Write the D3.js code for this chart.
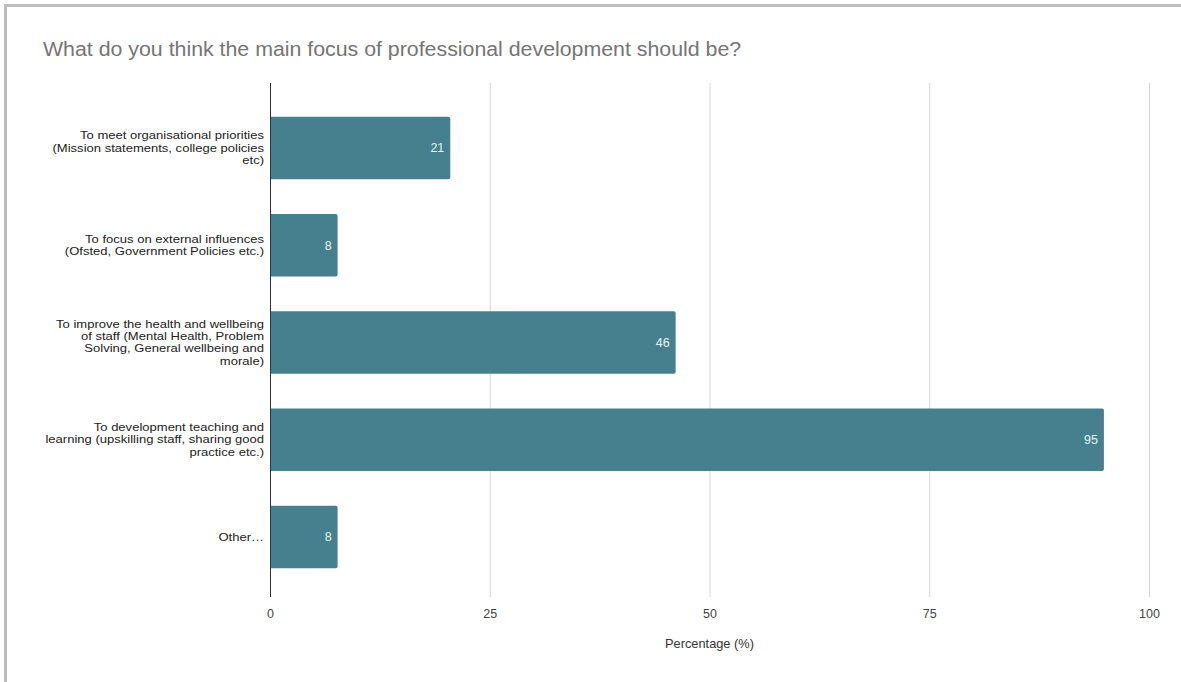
<!DOCTYPE html>
<html>
<head>
<meta charset="utf-8">
<script src="https://cdn.jsdelivr.net/npm/d3@7"></script>
<style>
  html, body { margin: 0; padding: 0; background: #fff; }
  svg { display: block; font-family: "Liberation Sans", Arial, sans-serif; }
</style>
</head>
<body>
<svg id="chart" width="1181" height="682"></svg>
<script>
// Survey answers (share of respondents, %)
const categories = [
  "To meet organisational priorities\n(Mission statements, college policies\netc)",
  "To focus on external influences\n(Ofsted, Government Policies etc.)",
  "To improve the health and wellbeing\nof staff (Mental Health, Problem\nSolving, General wellbeing and\nmorale)",
  "To development teaching and\nlearning (upskilling staff, sharing good\npractice etc.)",
  "Other\u2026"
];
const percentages = [20.51, 7.69, 46.15, 94.87, 7.69];
const xTicks = [0, 25, 50, 75, 100];

const title = "What do you think the main focus of professional development should be?";
const xTitle = "Percentage (%)";

const svg = d3.select("#chart");
const W = 1181, H = 682;

// page frame
svg.append("rect").attr("x", 0).attr("y", 0).attr("width", W).attr("height", H).attr("fill", "#fff");
svg.append("line").attr("x1", 4).attr("x2", W).attr("y1", 5.5).attr("y2", 5.5)
  .attr("stroke", "#bdbdbd").attr("stroke-width", 3);
svg.append("line").attr("x1", 5.5).attr("x2", 5.5).attr("y1", 4).attr("y2", H)
  .attr("stroke", "#bdbdbd").attr("stroke-width", 3);

svg.append("text").attr("transform", "translate(43,56) scale(1.1,1)")
  .attr("font-size", 19.4).attr("fill", "#757575").text(title);

const plot = { left: 270, right: 1149, top: 83, bottom: 597 };

const x = d3.scaleLinear().domain([0, 100]).range([plot.left, plot.right]);
const y = d3.scaleBand().domain(categories).range([99.4, 585.6])
  .paddingInner(0.357).paddingOuter(0.1785);

// vertical gridlines
svg.append("g").selectAll("line").data(xTicks.filter(d => d > 0)).join("line")
  .attr("x1", d => x(d) + 0.5).attr("x2", d => x(d) + 0.5)
  .attr("y1", plot.top).attr("y2", plot.bottom)
  .attr("stroke", "#d6d6d6").attr("stroke-width", 1);

// x tick labels
const xAxis = svg.append("g").attr("transform", `translate(0,${plot.bottom})`)
  .call(d3.axisBottom(x).tickValues(xTicks).tickSize(0).tickPadding(12));
xAxis.select(".domain").remove();
xAxis.selectAll("text").attr("font-size", 12.5).attr("fill", "#444")
  .attr("font-family", "'Liberation Sans', Arial, sans-serif");

svg.append("text").attr("x", (plot.left + plot.right) / 2).attr("y", 648)
  .attr("text-anchor", "middle").attr("font-size", 12.8).attr("fill", "#333").text(xTitle);

// bars with slightly rounded ends
const r = 2;
svg.append("g").selectAll("path").data(percentages).join("path")
  .attr("fill", "#46808e")
  .attr("d", (d, i) => {
    const x0 = x(0) + 0.5, x1 = x(d), y0 = y(categories[i]), h = y.bandwidth();
    return `M${x0},${y0}H${x1 - r}Q${x1},${y0} ${x1},${y0 + r}V${y0 + h - r}Q${x1},${y0 + h} ${x1 - r},${y0 + h}H${x0}Z`;
  });

// value labels inside bar ends
svg.append("g").selectAll("text").data(percentages).join("text")
  .attr("x", d => x(d) - 6)
  .attr("y", (d, i) => y(categories[i]) + y.bandwidth() / 2)
  .attr("dy", "0.35em").attr("text-anchor", "end")
  .attr("font-size", 12.5).attr("fill", "#e6f2f2")
  .text(d => d3.format(".0f")(d));

// category labels: compact, slightly widened type, one text per line
const lineH = 12.3;
const catG = svg.append("g");
categories.forEach(d => {
  const lines = d.split("\n");
  const cy = y(d) + y.bandwidth() / 2;
  lines.forEach((ln, k) => {
    catG.append("text")
      .attr("transform", `translate(264,${cy + (k - (lines.length - 1) / 2) * lineH}) scale(1.23,1)`)
      .attr("text-anchor", "end").attr("dy", "0.35em")
      .attr("font-size", 10.6).attr("fill", "#222")
      .text(ln);
  });
});

// vertical axis line
svg.append("line").attr("x1", plot.left + 0.5).attr("x2", plot.left + 0.5)
  .attr("y1", plot.top).attr("y2", plot.bottom)
  .attr("stroke", "#333").attr("stroke-width", 1);
</script>
</body>
</html>
